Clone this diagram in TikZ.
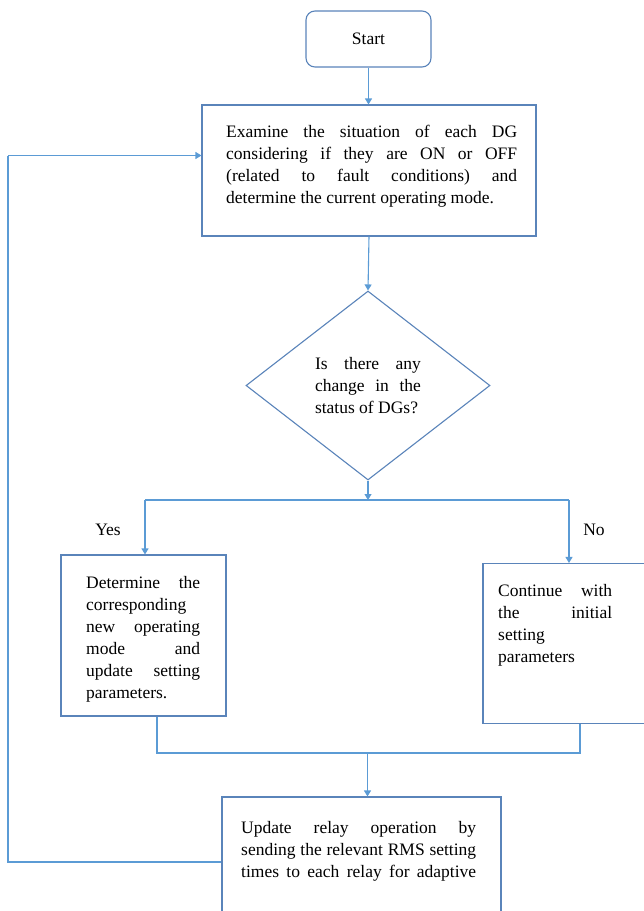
\documentclass[tikz,border=0pt]{standalone}
\usepackage{fontspec}
\setmainfont{Liberation Serif}
\usetikzlibrary{arrows.meta,shapes.geometric}
\definecolor{lineblue}{HTML}{5B9BD5}
\definecolor{boxblue}{HTML}{5A84BA}
\newcommand{\jline}[2]{\makebox[#1][s]{#2}}
\begin{document}
\begin{tikzpicture}[x=1pt,y=-1pt,
  font=\rmfamily\fontsize{17.5}{22}\selectfont,
  box/.style={draw=boxblue,line width=1.1pt,fill=white,inner sep=0pt,rectangle},
  conn/.style={draw=lineblue,line width=1.1pt},
  arr/.style={conn,-{Triangle[width=7pt,length=6pt]}},
  txt/.style={inner sep=0pt,align=left,anchor=north west}]
\useasboundingbox (0,0) rectangle (644,911);
\clip (0,0) rectangle (644,911);
% nodes
\node[box,rounded corners=9pt,minimum width=125pt,minimum height=56pt] (start) at (368.5,39) {Start};
\node[box,minimum width=334pt,minimum height=131pt] (exam) at (369,170.5) {};
\node[txt] (examt) at (226,125) {\jline{291pt}{Examine the situation of each DG}\\
\jline{291pt}{considering if they are ON or OFF}\\
\jline{291pt}{(related to fault conditions) and}\\
determine the current operating mode.};
\node[box,diamond,minimum width=244pt,minimum height=189pt] (dec) at (368,385.5) {};
\node[txt,anchor=center] (dect) at (368,386) {\jline{106pt}{Is there any}\\
\jline{106pt}{change in the}\\
status of DGs?};
\node[box,minimum width=165pt,minimum height=161pt] (yesbox) at (143.5,635.5) {};
\node[txt] (yest) at (86,576) {\jline{114pt}{Determine the}\\
corresponding\\
\jline{114pt}{new operating}\\
\jline{114pt}{mode and}\\
\jline{114pt}{update setting}\\
parameters.};
\node[box,minimum width=180pt,minimum height=160pt] (nobox) at (573,643.5) {};
\node[txt] (not) at (498,584) {\jline{114pt}{Continue with}\\
\jline{114pt}{the initial}\\
setting\\
parameters};
\node[box,minimum width=279pt,minimum height=160pt] (upd) at (361.5,877) {};
\node[txt] (updt) at (241,821) {\jline{235pt}{Update relay operation by}\\
\jline{235pt}{sending the relevant RMS setting}\\
\jline{235pt}{times to each relay for adaptive}};
\node[inner sep=0pt] (yes) at (108,530) {Yes};
\node[inner sep=0pt] (no) at (594,530) {No};
% coordinates
\coordinate (split) at (368,500);
\coordinate (splitL) at (145,500);
\coordinate (splitR) at (569,500);
\coordinate (joinL) at (157,753);
\coordinate (joinR) at (580,753);
\coordinate (joinC) at (367.5,753);
\coordinate (loopB) at (8,862);
\coordinate (loopT) at (8,155.5);
% connectors
\draw[arr] (start.south) -- (start.south |- exam.north);
\draw[arr] (exam.south) -- (dec.north);
\draw[arr] (dec.south) -- (split);
\draw[conn] (splitL) -- (splitR);
\draw[arr] (splitL) -- (splitL |- yesbox.north);
\draw[arr] (splitR) -- (splitR |- nobox.north);
\draw[conn] (joinL |- yesbox.south) -- (joinL) -- (joinR) -- (joinR |- nobox.south);
\draw[arr] (joinC) -- (joinC |- upd.north);
\draw[conn] (upd.west |- loopB) -- (loopB) -- (loopT);
\draw[arr] (loopT) -- (loopT -| exam.west);
\end{tikzpicture}
\end{document}
